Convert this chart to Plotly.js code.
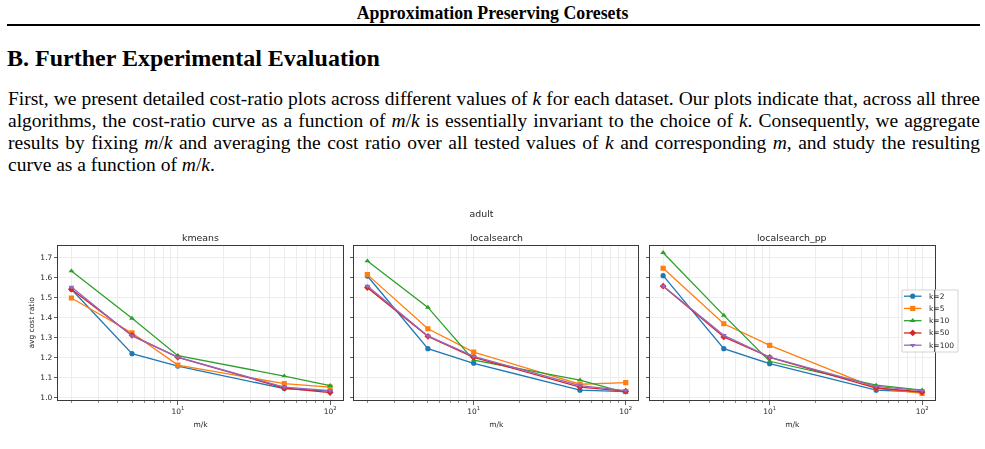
<!DOCTYPE html>
<html>
<head>
<meta charset="utf-8">
<script src="https://cdn.plot.ly/plotly-3.0.1.min.js"></script>
<style>
  html, body { margin: 0; padding: 0; background: #fff; }
  #page { position: relative; width: 985px; height: 449px; overflow: hidden; background: #fff; }
  .serif { font-family: "Liberation Serif", "Times New Roman", serif; color: #000; position: absolute; white-space: nowrap; }
  #runhead { left: 0; width: 985px; top: 3.5px; font-size: 17.8px; line-height: 18px; font-weight: bold; text-align: center; }
  #rule { position: absolute; left: 7px; top: 24px; width: 973px; height: 2px; background: #000; }
  #section { left: 7px; top: 46px; font-size: 24px; line-height: 24px; font-weight: bold; }
  #para { left: 8px; top: 88.4px; width: 972px; font-size: 19.5px; line-height: 22px; }
  #para div { position: relative; white-space: nowrap; word-spacing: -1.5px; text-align: justify; text-align-last: justify; }
  #para div.last { text-align-last: left; word-spacing: 0; }
  #chart { position: absolute; left: 0; top: 200px; width: 985px; height: 249px; filter: blur(0.4px); }
</style>
</head>
<body>
<div id="page">
  <div id="runhead" class="serif">Approximation Preserving Coresets</div>
  <div id="rule"></div>
  <div id="section" class="serif">B. Further Experimental Evaluation</div>
  <div id="para" class="serif">
    <div>First, we present detailed cost-ratio plots across different values of <i>k</i> for each dataset. Our plots indicate that, across all three</div>
    <div>algorithms, the cost-ratio curve as a function of <i>m</i>/<i>k</i> is essentially invariant to the choice of <i>k</i>. Consequently, we aggregate</div>
    <div>results by fixing <i>m</i>/<i>k</i> and averaging the cost ratio over all tested values of <i>k</i> and corresponding <i>m</i>, and study the resulting</div>
    <div class="last">curve as a function of <i>m</i>/<i>k</i>.</div>
  </div>
  <div id="chart"></div>
</div>
<script>
// ---- data: average cost ratio vs. coreset size per center (m/k), dataset "adult" ----
const mk = [2, 5, 10, 50, 100];
const kNames = ['k=2', 'k=5', 'k=10', 'k=50', 'k=100'];
const panelTitles = ['kmeans', 'localsearch', 'localsearch_pp'];
const datasetName = 'adult';
const xTitle = 'm/k';
const yTitle = 'avg cost ratio';

// rows follow kNames
const kmeansRatio = [
  [1.540, 1.217, 1.155, 1.042, 1.029],
  [1.496, 1.321, 1.160, 1.067, 1.050],
  [1.631, 1.394, 1.207, 1.105, 1.057],
  [1.540, 1.309, 1.199, 1.045, 1.022],
  [1.551, 1.306, 1.200, 1.049, 1.032]
];
const localsearchRatio = [
  [1.606, 1.242, 1.169, 1.034, 1.027],
  [1.613, 1.342, 1.225, 1.064, 1.072],
  [1.681, 1.449, 1.185, 1.085, 1.022],
  [1.548, 1.304, 1.199, 1.050, 1.029],
  [1.556, 1.306, 1.204, 1.057, 1.032]
];
const localsearchPpRatio = [
  [1.608, 1.242, 1.167, 1.034, 1.025],
  [1.645, 1.367, 1.259, 1.045, 1.018],
  [1.723, 1.409, 1.179, 1.059, 1.034],
  [1.555, 1.301, 1.199, 1.045, 1.025],
  [1.556, 1.309, 1.200, 1.053, 1.032]
];

const yTickVals = [1.0, 1.1, 1.2, 1.3, 1.4, 1.5, 1.6, 1.7];
const xTickVals = [10, 100];
const xTickText = ['10<sup>1</sup>', '10<sup>2</sup>'];
const xMinorVals = [2, 3, 4, 5, 6, 7, 8, 9, 20, 30, 40, 50, 60, 70, 80, 90];

// ---- styling ----
const colors = ['#1f77b4', '#ff7f0e', '#2ca02c', '#d62728', '#9467bd'];
const symbols = ['circle', 'square', 'triangle-up', 'diamond', 'triangle-down'];
const W = 985, H = 249;
const FONT = 'DejaVu Sans, Arial, sans-serif';
const ink = '#262626';
const gridCol = '#e8e8e8';
const frameCol = '#3a3a3a';
const LW = 1.3, MS = 5.2;

// panel frames in pixels within the chart div
const panelPx = [[58.3, 342.7], [354.3, 638.3], [650.0, 934.7]];
const plotTop = 45.7, plotBottom = 200;
const yDomain = [1 - plotBottom / H, 1 - plotTop / H];
const px = x => x / W;
const py = y => 1 - y / H;

const allRatios = [kmeansRatio, localsearchRatio, localsearchPpRatio];
const traces = [];
allRatios.forEach((panel, p) => {
  const sfx = p === 0 ? '' : String(p + 1);
  panel.forEach((vals, i) => {
    traces.push({
      type: 'scatter', mode: 'lines+markers',
      x: mk, y: vals, name: kNames[i],
      xaxis: 'x' + sfx, yaxis: 'y' + sfx,
      line: {color: colors[i], width: LW},
      marker: {color: colors[i], symbol: symbols[i], size: MS, line: {width: 0}},
      showlegend: false, hoverinfo: 'x+y+name'
    });
  });
});

// ---- key box drawn on a full-figure pixel overlay ----
const keyBox = {x0: 902, x1: 958, y0: 90, y1: 152};
const keyRow0 = 96.2, keyStep = 12.25;
traces.push({
  type: 'scatter', mode: 'lines', xaxis: 'x4', yaxis: 'y4',
  x: [keyBox.x0, keyBox.x1, keyBox.x1, keyBox.x0, keyBox.x0],
  y: [keyBox.y0, keyBox.y0, keyBox.y1, keyBox.y1, keyBox.y0],
  fill: 'toself', fillcolor: 'rgba(255,255,255,0.9)',
  line: {color: '#cfcfcf', width: 0.9}, showlegend: false, hoverinfo: 'skip'
});
// right frame edge of the last panel stays visible through the key box
traces.push({
  type: 'scatter', mode: 'lines', xaxis: 'x4', yaxis: 'y4',
  x: [panelPx[2][1], panelPx[2][1]], y: [keyBox.y0, keyBox.y1],
  line: {color: frameCol, width: 1}, showlegend: false, hoverinfo: 'skip'
});
const keyAnn = [];
kNames.forEach((nm, i) => {
  const yy = keyRow0 + i * keyStep;
  traces.push({
    type: 'scatter', mode: 'lines', xaxis: 'x4', yaxis: 'y4',
    x: [904, 921.5], y: [yy, yy],
    line: {color: colors[i], width: LW}, showlegend: false, hoverinfo: 'skip'
  });
  traces.push({
    type: 'scatter', mode: 'markers', xaxis: 'x4', yaxis: 'y4',
    x: [912.7], y: [yy],
    marker: {color: colors[i], symbol: symbols[i], size: MS, line: {width: 0}},
    showlegend: false, hoverinfo: 'skip'
  });
  keyAnn.push({
    xref: 'paper', yref: 'paper', x: px(927.2), y: py(yy),
    xanchor: 'left', yanchor: 'middle', showarrow: false,
    text: nm, font: {family: FONT, size: 7.5, color: ink}
  });
});

function xAxisDef(p) {
  return {
    type: 'log', domain: [px(panelPx[p][0]), px(panelPx[p][1])],
    range: [Math.log10(1.64), Math.log10(121)],
    anchor: p === 0 ? 'y' : 'y' + (p + 1),
    tickmode: 'array', tickvals: xTickVals, ticktext: xTickText,
    ticks: 'outside', ticklen: 3.5, tickwidth: 0.8, tickcolor: frameCol,
    tickfont: {family: FONT, size: 7.5, color: ink},
    title: {text: xTitle, standoff: 7, font: {family: FONT, size: 7.5, color: ink}},
    automargin: false,
    showgrid: true, gridcolor: gridCol, gridwidth: 0.8,
    minor: {tickmode: 'array', tickvals: xMinorVals, ticks: 'outside', ticklen: 2,
            tickwidth: 0.6, tickcolor: frameCol, showgrid: true, gridcolor: gridCol, gridwidth: 0.8},
    showline: true, mirror: true, linecolor: frameCol, linewidth: 1,
    zeroline: false, fixedrange: true
  };
}
function yAxisDef(p) {
  const ax = {
    domain: yDomain, range: [0.985, 1.758],
    anchor: p === 0 ? 'x' : 'x' + (p + 1),
    tickmode: 'array', tickvals: yTickVals, ticktext: yTickVals.map(v => v.toFixed(1)),
    showticklabels: p === 0,
    ticks: 'outside', ticklen: 3.5, tickwidth: 0.8, tickcolor: frameCol,
    tickfont: {family: FONT, size: 7.5, color: ink},
    automargin: false,
    showgrid: true, gridcolor: gridCol, gridwidth: 0.8,
    showline: true, mirror: true, linecolor: frameCol, linewidth: 1,
    zeroline: false, fixedrange: true
  };
  if (p === 0) ax.title = {text: yTitle, standoff: 4, font: {family: FONT, size: 7.5, color: ink}};
  else ax.matches = 'y';
  return ax;
}

const annotations = [];
panelTitles.forEach((t, p) => {
  const cx = (panelPx[p][0] + panelPx[p][1]) / 2;
  annotations.push({xref: 'paper', yref: 'paper', x: px(cx), y: py(37.5), xanchor: 'center', yanchor: 'middle',
    showarrow: false, text: t, font: {family: FONT, size: 9.4, color: ink}});
});

const layout = {
  width: W, height: H,
  margin: {l: 0, r: 0, t: 0, b: 0, pad: 0},
  paper_bgcolor: '#ffffff', plot_bgcolor: 'rgba(0,0,0,0)',
  showlegend: false,
  title: {text: datasetName, x: px(481.5), xanchor: 'center', xref: 'container',
          y: py(14), yanchor: 'middle', yref: 'container',
          font: {family: FONT, size: 9.4, color: ink}},
  font: {family: FONT, size: 7.5, color: ink},
  xaxis: xAxisDef(0), xaxis2: xAxisDef(1), xaxis3: xAxisDef(2),
  yaxis: yAxisDef(0), yaxis2: yAxisDef(1), yaxis3: yAxisDef(2),
  xaxis4: {domain: [0, 1], range: [0, W], visible: false, anchor: 'y4', fixedrange: true},
  yaxis4: {domain: [0, 1], range: [H, 0], visible: false, anchor: 'x4', fixedrange: true},
  annotations: annotations.concat(keyAnn)
};

Plotly.newPlot('chart', traces, layout, {staticPlot: true, displayModeBar: false});
</script>
</body>
</html>
